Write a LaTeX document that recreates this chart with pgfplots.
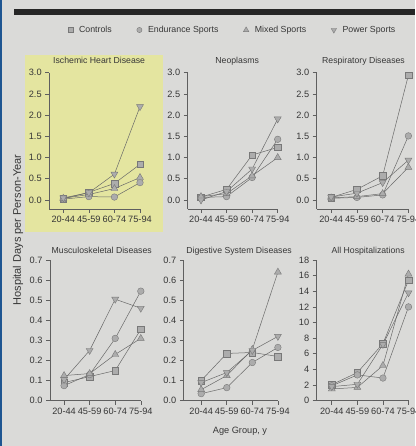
\documentclass[border=0pt]{standalone}
\usepackage{pgfplots}
\pgfplotsset{compat=1.18}
\usepackage{fontspec}
\setmainfont{Liberation Sans}
\definecolor{bgcol}{RGB}{218,218,216}
\definecolor{hlcol}{RGB}{228,229,160}
\definecolor{edgeblue}{RGB}{30,85,145}
\definecolor{axcol}{RGB}{95,95,95}
\definecolor{txtcol}{RGB}{55,55,55}
\definecolor{lncol}{RGB}{105,105,105}
\definecolor{mkfill}{RGB}{172,172,172}
\definecolor{mkdraw}{RGB}{120,120,120}
\pgfplotsset{
  panel/.style={
    scale only axis, anchor=south west, clip=false,
    axis lines=left,
    axis line style={-, draw=axcol, line width=0.7pt},
    tick style={draw=axcol, line width=0.6pt},
    major tick length=4pt, tick align=outside,
    xtick={0,1,2,3}, xticklabels={20-44,45-59,60-74,75-94}, xmax=3,
    /pgf/number format/assume math mode=true,
    tick label style={font=\fontsize{9.2}{10}\selectfont, text=txtcol},
    title style={font=\fontsize{8.7}{10}\selectfont, text=txtcol, anchor=base},
  },
  rowone/.style={ymin=-0.212, ymax=3, height=136.3pt, ytick={0,0.5,...,3},
    yticklabel style={/pgf/number format/.cd, fixed, fixed zerofill, precision=1},
    title style={yshift=3.5pt}},
  rowtwo/.style={ymin=0, ymax=0.7, height=140.7pt, ytick={0,0.1,...,0.7},
    yticklabel style={/pgf/number format/.cd, fixed, fixed zerofill, precision=1},
    title style={yshift=0.3pt}},
  ctrl/.style={draw=lncol, line width=0.5pt, mark=square*, mark size=3.3pt,
    mark options={fill=mkfill, draw=mkdraw, line width=0.4pt}},
  endu/.style={draw=lncol, line width=0.5pt, mark=*, mark size=3.3pt,
    mark options={fill=mkfill, draw=mkdraw, line width=0.4pt}},
  mixd/.style={draw=lncol, line width=0.5pt, mark=triangle*, mark size=4pt,
    mark options={fill=mkfill, draw=mkdraw, line width=0.4pt}},
  powr/.style={draw=lncol, line width=0.5pt, mark=triangle*, mark size=4pt,
    mark options={fill=mkfill, draw=mkdraw, line width=0.4pt, rotate=180}},
}
\begin{document}
\begin{tikzpicture}
\useasboundingbox (0,0) rectangle (415pt,446pt);
\fill[bgcol] (0,0) rectangle (415pt,446pt);
\fill[hlcol] (25pt,214.3pt) rectangle (163pt,391pt);
\fill[edgeblue] (0,0) rectangle (2pt,446pt);
\fill[black!85] (14pt,431pt) rectangle (415pt,437pt);

% legend axis
\begin{axis}[at={(0,0)}, anchor=south west, scale only axis, width=415pt, height=446pt,
  hide axis, xmin=0, xmax=1, ymin=0, ymax=1,
  legend columns=4,
  legend image code/.code={\draw[#1] plot coordinates {(0pt,0pt)};},
  legend style={at={(0.163,0.9327)}, anchor=west, draw=none, fill=none,
    inner sep=0pt, font=\fontsize{8.8}{10}\selectfont, text=txtcol,
    column sep=4pt,
    /tikz/every even column/.append style={column sep=23pt}}]
\addlegendimage{ctrl, mark size=2.6pt}
\addlegendentry{Controls}
\addlegendimage{endu, mark size=2.6pt}
\addlegendentry{Endurance Sports\hspace{8pt}}
\addlegendimage{mixd, mark size=3.1pt}
\addlegendentry{Mixed Sports\hspace{16pt}}
\addlegendimage{powr, mark size=3.1pt}
\addlegendentry{Power Sports}
\end{axis}

% Ischemic Heart Disease
\begin{axis}[panel, rowone, at={(49.2pt,237pt)}, xmin=-0.55, width=90.8pt,
  title={Ischemic Heart Disease}, title style={at={(0.55,1)}}]
\addplot[ctrl] coordinates {(0,0.03) (1,0.18) (2,0.39) (3,0.84)};
\addplot[endu] coordinates {(0,0.02) (1,0.08) (2,0.07) (3,0.41)};
\addplot[mixd] coordinates {(0,0.04) (1,0.13) (2,0.27) (3,0.53)};
\addplot[powr] coordinates {(0,0.05) (1,0.17) (2,0.61) (3,2.20)};
\end{axis}

% Neoplasms
\begin{axis}[panel, rowone, at={(187.7pt,237pt)}, xmin=-0.52, width=90.0pt,
  title={Neoplasms}, title style={at={(0.55,1)}}]
\addplot[ctrl] coordinates {(0,0.07) (1,0.25) (2,1.06) (3,1.24)};
\addplot[endu] coordinates {(0,0.06) (1,0.08) (2,0.53) (3,1.43)};
\addplot[mixd] coordinates {(0,0.08) (1,0.15) (2,0.57) (3,1.00)};
\addplot[powr] coordinates {(0,0.00) (1,0.20) (2,0.73) (3,1.91)};
\end{axis}

% Respiratory Diseases
\begin{axis}[panel, rowone, at={(316.7pt,237pt)}, xmin=-0.56, width=91.7pt,
  title={Respiratory Diseases}, title style={at={(0.51,1)}}]
\addplot[ctrl] coordinates {(0,0.06) (1,0.25) (2,0.57) (3,2.94)};
\addplot[endu] coordinates {(0,0.04) (1,0.06) (2,0.12) (3,1.51)};
\addplot[mixd] coordinates {(0,0.05) (1,0.08) (2,0.15) (3,0.77)};
\addplot[powr] coordinates {(0,0.07) (1,0.16) (2,0.41) (3,0.94)};
\end{axis}

% Musculoskeletal Diseases
\begin{axis}[panel, rowtwo, at={(50pt,45.3pt)}, xmin=-0.55, width=90.8pt,
  title={Musculoskeletal Diseases}, title style={at={(0.57,1)}}]
\addplot[ctrl] coordinates {(0,0.090) (1,0.120) (2,0.150) (3,0.355)};
\addplot[endu] coordinates {(0,0.075) (1,0.130) (2,0.310) (3,0.545)};
\addplot[mixd] coordinates {(0,0.125) (1,0.135) (2,0.230) (3,0.310)};
\addplot[powr] coordinates {(0,0.105) (1,0.250) (2,0.505) (3,0.460)};
\end{axis}

% Digestive System Diseases
\begin{axis}[panel, rowtwo, at={(183.8pt,45.3pt)}, xmin=-0.68, width=94.1pt,
  title={Digestive System Diseases}, title style={at={(0.587,1)}}]
\addplot[ctrl] coordinates {(0,0.100) (1,0.235) (2,0.240) (3,0.220)};
\addplot[endu] coordinates {(0,0.035) (1,0.065) (2,0.190) (3,0.265)};
\addplot[mixd] coordinates {(0,0.055) (1,0.125) (2,0.255) (3,0.640)};
\addplot[powr] coordinates {(0,0.090) (1,0.140) (2,0.250) (3,0.320)};
\end{axis}

% All Hospitalizations
\begin{axis}[panel, at={(316.7pt,45.3pt)}, xmin=-0.59, width=91.8pt,
  ymin=0, ymax=18, height=140.7pt, ytick={0,2,...,18},
  title={All Hospitalizations}, title style={at={(0.56,1)}, yshift=0.3pt}]
\addplot[ctrl] coordinates {(0,2.05) (1,3.6) (2,7.3) (3,15.4)};
\addplot[endu] coordinates {(0,1.9) (1,3.3) (2,2.9) (3,12.0)};
\addplot[mixd] coordinates {(0,1.5) (1,1.7) (2,4.5) (3,16.2)};
\addplot[powr] coordinates {(0,1.8) (1,2.1) (2,7.2) (3,13.8)};
\end{axis}

\node[rotate=90, font=\fontsize{11}{12}\selectfont, text=txtcol] at (18pt,216pt) {Hospital Days per Person-Year};
\node[font=\fontsize{9.2}{11}\selectfont, text=txtcol] at (240pt,14.3pt) {Age Group, y};
\end{tikzpicture}
\end{document}
